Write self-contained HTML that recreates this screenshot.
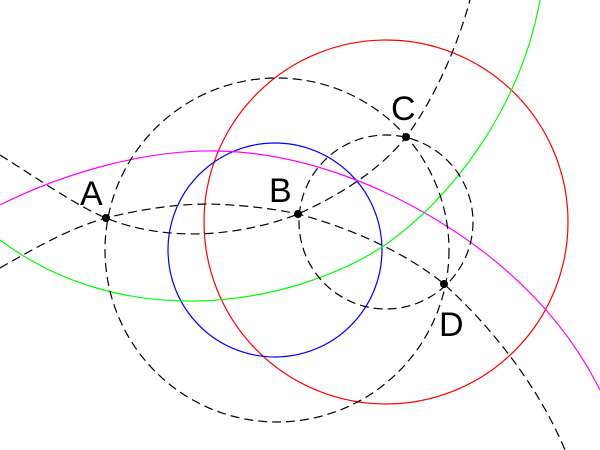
<!DOCTYPE html>
<html><head><style>body{margin:0;background:#fff}svg{display:block}</style></head>
<body>
<svg width="600" height="450" viewBox="0 0 600 450" xmlns="http://www.w3.org/2000/svg">
<g fill="none" stroke-width="1.2">
<circle cx="386" cy="222" r="182" stroke="#ff0000"/>
<circle cx="275" cy="250" r="107" stroke="#0000ff"/>
<path d="M0,205 C70,170 150,150 215,151 C300,152 380,185 440,222 C510,265 565,320 600,390" stroke="#ff00ff"/>
<path d="M0,240 C60,285 130,302 195,301 C270,300 340,275 385,245 C450,200 520,110 540,0" stroke="#00ff00"/>
<g stroke="#000" stroke-dasharray="9,5">
<circle cx="277" cy="250" r="172"/>
<circle cx="386" cy="222" r="87"/>
<path d="M0,155 C40,180 75,205 106,218 C140,232 180,236 215,233 C250,230 278,222 298,214 C340,195 380,170 406,137 C430,105 455,55 470,0"/>
<path d="M0,268 C35,248 70,228 106,218 C145,208 180,204 210,204 C245,205 275,209 298,214 C350,228 405,252 444,284 C495,330 540,390 565,450"/>
</g>
</g>
<g fill="#000">
<circle cx="106" cy="218" r="4"/>
<circle cx="298" cy="214" r="4"/>
<circle cx="406" cy="137" r="4"/>
<circle cx="444" cy="284" r="4"/>
</g>
<g font-family="Liberation Sans, sans-serif" font-size="34" fill="#000">
<text x="80" y="205">A</text>
<text x="269" y="202">B</text>
<text x="391" y="120">C</text>
<text x="439" y="336">D</text>
</g>
</svg>
</body></html>
